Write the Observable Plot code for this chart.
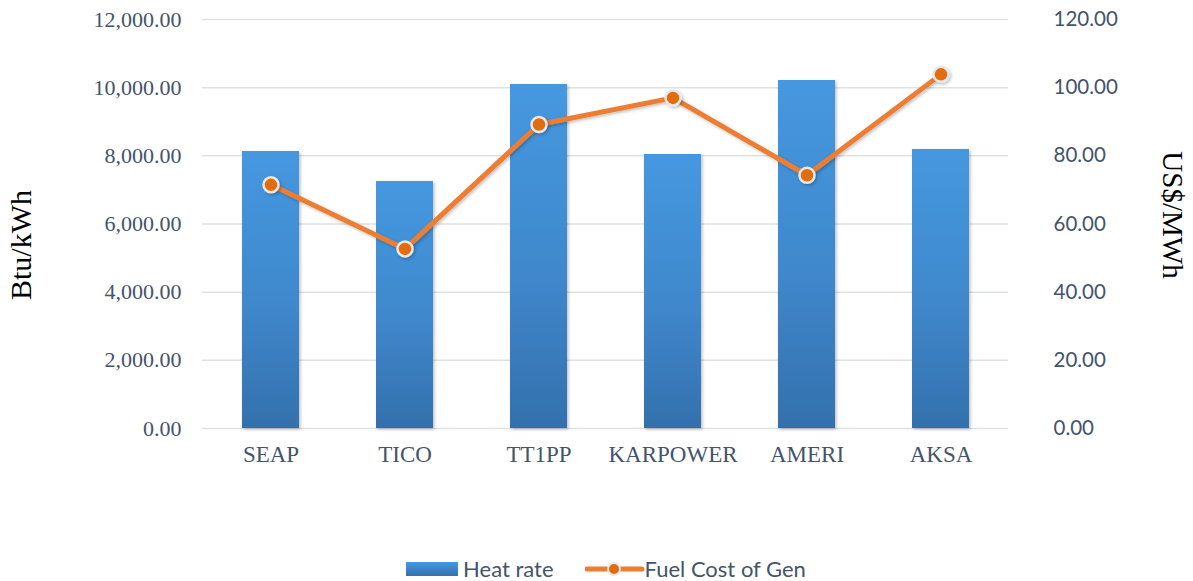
<!DOCTYPE html>
<html>
<head>
<meta charset="utf-8">
<script src="https://cdn.jsdelivr.net/npm/d3@7"></script>
<script src="https://cdn.jsdelivr.net/npm/@observablehq/plot@0.6"></script>
<style>
  body { margin: 0; background: #fff; }
  #wrap { position: relative; width: 1193px; height: 581px; }
  #legend { position: absolute; left: 0; top: 555px; width: 1193px; display: flex; justify-content: center; align-items: center;
    font-family: Lato, "Open Sans", sans-serif; font-size: 22px; color: #44546a; padding-left: 19px; box-sizing: border-box; }
  .sw-bar { width: 52px; height: 14px; background: linear-gradient(#4598e0, #3572ae); margin-right: 5px; }
  .item { display: flex; align-items: center; }
</style>
</head>
<body>
<div id="wrap"><div id="chart"></div>
<div id="legend">
  <div class="item"><div class="sw-bar"></div><span>Heat rate</span></div>
  <div class="item" style="margin-left:31px"><svg width="60" height="20"><line x1="2" y1="10" x2="57" y2="10" stroke="#ed7d31" stroke-width="5" stroke-linecap="round"/><circle cx="29" cy="10" r="6" fill="#e36c0a" stroke="#e8e8e8" stroke-width="2"/></svg><span>Fuel Cost of Gen</span></div>
</div>
</div>
<script>
const plants = ["SEAP", "TICO", "TT1PP", "KARPOWER", "AMERI", "AKSA"];
const heatRate = [8127, 7247, 10093, 8039, 10210, 8186];       // Btu/kWh
const fuelCost = [71.5, 52.7, 89.2, 97.0, 74.3, 103.9];          // US$/MWh
const leftTicks = [0, 2000, 4000, 6000, 8000, 10000, 12000];
const rightTicks = [0, 20, 40, 60, 80, 100, 120];

const ratio = 100; // right axis (US$/MWh) mapped onto left scale
const data = plants.map((p, i) => ({plant: p, heat: heatRate[i], cost: fuelCost[i]}));

const serif = "'Liberation Serif', 'DejaVu Serif', serif";
const sans = "Lato, 'Open Sans', sans-serif";
const textColor = "#44546a";

const chart = Plot.plot({
  width: 1193,
  height: 540,
  marginLeft: 202,
  marginRight: 185,
  marginTop: 19,
  marginBottom: 112,
  style: {background: "#fff", color: textColor},
  x: {domain: plants, paddingInner: 0.575, paddingOuter: 0.2875, label: null},
  y: {domain: [0, 12000], label: null},
  marks: [
    Plot.ruleY(leftTicks, {stroke: "#dde1e6", strokeWidth: 1.5}),
    Plot.barY(data, {x: "plant", y: "heat", fill: "url(#barGrad)"}),
    Plot.line(data, {x: "plant", y: d => d.cost * ratio, stroke: "#ed7d31", strokeWidth: 5}),
    Plot.dot(data, {x: "plant", y: d => d.cost * ratio, r: 7.5, fill: "#e36c0a", stroke: "#e8e8e8", strokeWidth: 2.5}),
    Plot.axisX({tickSize: 0, tickPadding: 17, fontFamily: serif, fontSize: 23, fill: textColor, label: null}),
    Plot.axisY({anchor: "left", ticks: leftTicks, tickSize: 0, tickPadding: 21, tickFormat: d3.format(",.2f"),
      fontFamily: serif, fontSize: 22, fill: textColor, label: null}),
    Plot.axisY({anchor: "right", ticks: rightTicks.map(v => v * ratio), tickSize: 0, tickPadding: 45,
      tickFormat: d => (d / ratio).toFixed(2), fontFamily: sans, fontSize: 20.5, fill: textColor, label: null}),
    Plot.text(["Btu/kWh"], {frameAnchor: "left", dx: -181, dy: 21, rotate: -90, fontFamily: serif, fontSize: 30, fill: "#000", textAnchor: "middle"}),
    Plot.text(["US$/MWh"], {frameAnchor: "right", dx: 164, dy: -9, rotate: 90, fontFamily: serif, fontSize: 29, fill: "#000", textAnchor: "middle"})
  ]
});

const svg = d3.select(chart);
const defs = svg.insert("defs", ":first-child");
const g = defs.append("linearGradient").attr("id", "barGrad").attr("x1", 0).attr("y1", 0).attr("x2", 0).attr("y2", 1);
g.append("stop").attr("offset", "0%").attr("stop-color", "#4598e0");
g.append("stop").attr("offset", "55%").attr("stop-color", "#4088cc");
g.append("stop").attr("offset", "100%").attr("stop-color", "#3370ad");
const f = defs.append("filter").attr("id", "shadow").attr("x", "-20%").attr("y", "-20%").attr("width", "140%").attr("height", "140%");
f.append("feDropShadow").attr("dx", 1.5).attr("dy", 1.5).attr("stdDeviation", 1.5).attr("flood-color", "#000").attr("flood-opacity", 0.25);
svg.selectAll('g[aria-label="bar"], g[aria-label="line"], g[aria-label="dot"]').attr("filter", "url(#shadow)");

document.getElementById("chart").appendChild(chart);
</script>
</body>
</html>
